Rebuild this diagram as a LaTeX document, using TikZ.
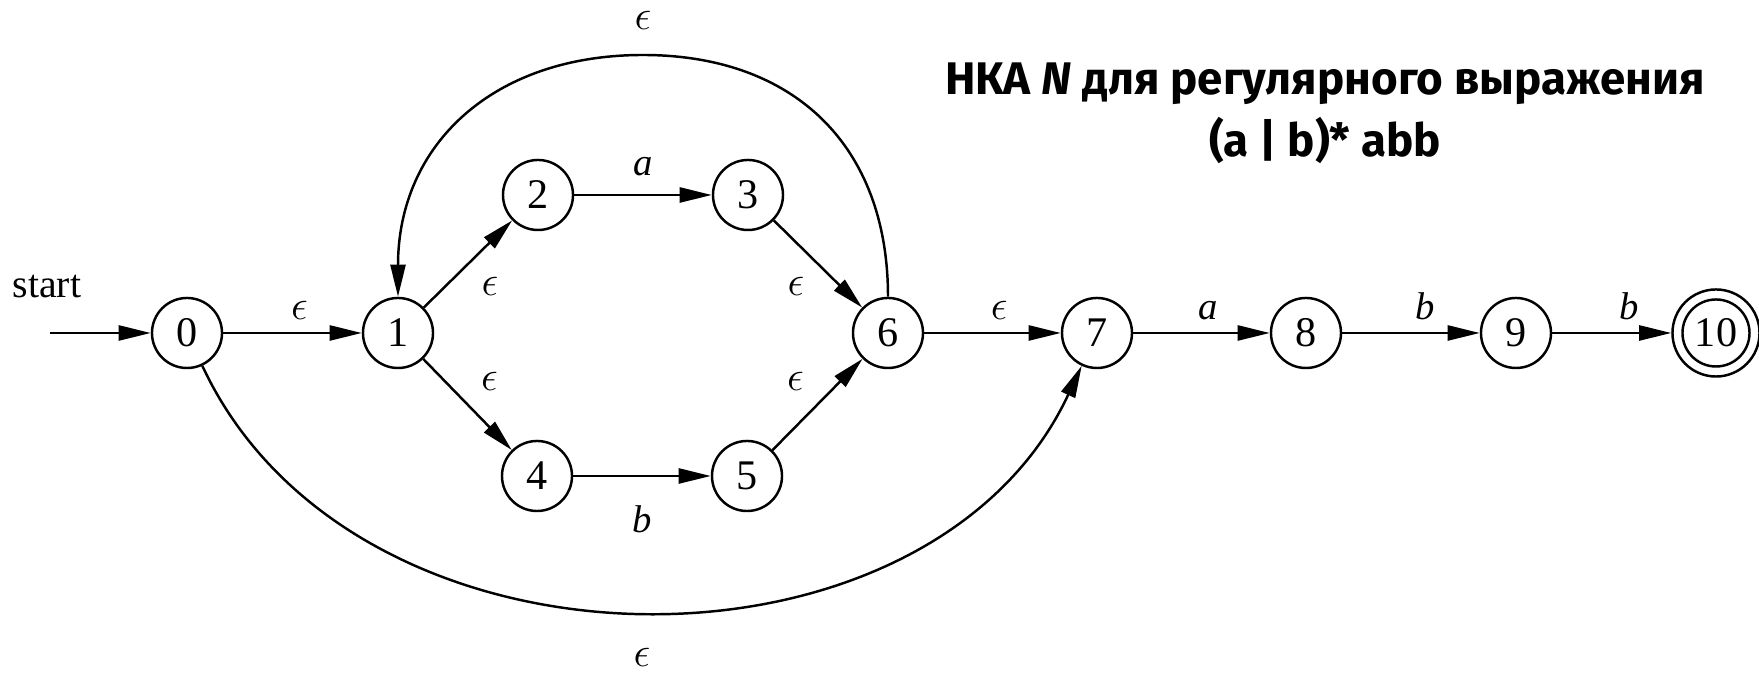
\documentclass[tikz,border=0pt]{standalone}
\usepackage{fontspec}
\setmainfont{Liberation Serif}
\newfontfamily\ttlfont{Fira Sans}
\usetikzlibrary{arrows.meta,positioning}
\tikzset{
  state/.style  = {circle, draw, line width=0.7pt, minimum size=7mm, inner sep=0pt,
                   font=\fontsize{12}{12}\selectfont},
  accept/.style = {state, minimum size=8.7mm,
                   path picture={\draw[line width=0.7pt] (path picture bounding box.center) circle (3.35mm);}},
  flow/.style   = {-{Triangle[length=3.2mm,width=1.5mm]}, line width=0.7pt},
  lbl/.style    = {font=\fontsize{11}{12}\selectfont, inner sep=0pt},
  eps/.style    = {font=\fontsize{12.5}{13}\selectfont, inner sep=0pt},
  ttl/.style    = {font=\ttlfont\bfseries\fontsize{13}{14}\selectfont, inner sep=0pt, anchor=base},
}

\begin{document}
\begin{tikzpicture}[x=0.01cm, y=-0.01cm]
\useasboundingbox (0,0) rectangle (1759,674);
\node[state] (q0) at (187,333) {0};
\node[state] (q1) at (398,333) {1};
\node[state] (q2) at (538,195) {2};
\node[state] (q3) at (748,195) {3};
\node[state] (q4) at (537,476) {4};
\node[state] (q5) at (747,476) {5};
\node[state] (q6) at (888,333) {6};
\node[state] (q7) at (1097,333) {7};
\node[state] (q8) at (1306,333) {8};
\node[state] (q9) at (1516,333) {9};
\node[accept] (q10) at (1716,333) {10};
\coordinate (s) at (50,333);
\coordinate (top) at (643,55);
\node[font=\fontsize{11.3}{12}\selectfont, inner sep=0pt, anchor=base] (st) at (47,298) {start};

% title
\node[ttl] (t1) at (1325,95) {НКА \textit{N} для регулярного выражения};
\node[ttl] (t2) at (1325,157) {(a | b)* abb};

\draw[flow] (s) -- (q0);
\draw[flow] (q0) -- node[eps,above=3.5pt,pos=0.55]{$\epsilon$} (q1);
\draw[flow] (q1) -- node[eps,below right=5pt]{$\epsilon$} (q2);
\draw[flow] (q1) -- node[eps,above right=5pt]{$\epsilon$} (q4);
\draw[flow] (q2) -- node[lbl,above=5pt]{\textit{a}} (q3);
\draw[flow] (q4) -- node[lbl,below=8pt]{\textit{b}} (q5);
\draw[flow] (q3) -- node[eps,below left=5pt]{$\epsilon$} (q6);
\draw[flow] (q5) -- node[eps,above left=5pt]{$\epsilon$} (q6);
\draw[flow] (q6) -- node[eps,above=3.5pt,pos=0.55]{$\epsilon$} (q7);
\draw[flow] (q7) -- node[lbl,above=3.5pt,pos=0.55]{\textit{a}} (q8);
\draw[flow] (q8) -- node[lbl,above=3.5pt,pos=0.6]{\textit{b}} (q9);
\draw[flow] (q9) -- node[lbl,above=3.5pt,pos=0.65]{\textit{b}} (q10);
\draw[flow] (q6.north) to[out=90,in=0,looseness=1.12] (top)
  node[eps,above=7pt]{$\epsilon$} to[out=180,in=90,looseness=1.12] (q1.north);
\draw[flow] (q0) to[out=-65,in=-115,looseness=1.05] node[eps,below=10.5pt]{$\epsilon$} (q7);
\end{tikzpicture}
\end{document}
